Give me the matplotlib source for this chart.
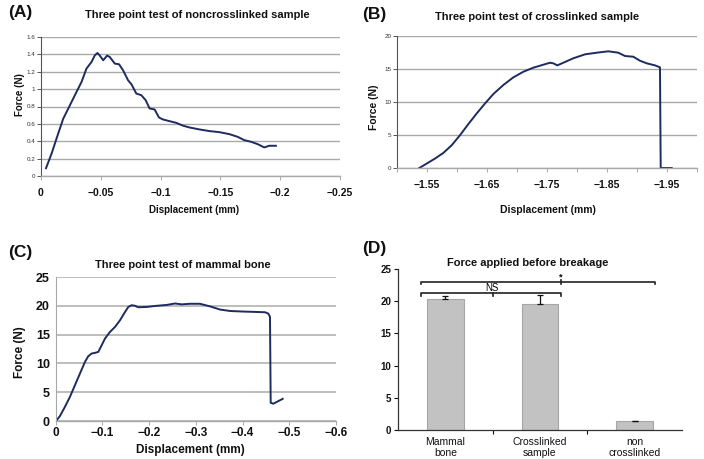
"""Three point bending tests: force vs displacement curves and breakage force summary."""

import matplotlib
matplotlib.use("Agg")
import matplotlib.pyplot as plt

plt.rcParams["font.family"] = ["Liberation Sans", "DejaVu Sans"]

# Style tokens
NAVY = "#1d2b5e"
GRID = "#a9a9a9"
SPINE = "#555555"
BAR = "#c2c2c2"
BAR_EDGE = "#a6a6a6"
INK = "#111111"

W, H = 704, 459

# (A) noncrosslinked sample
A_disp = [-0.0042, -0.0089, -0.0144, -0.0186, -0.0242, -0.0297, -0.0339, -0.038, -0.0422,
          -0.045, -0.0472, -0.049, -0.052, -0.0553, -0.0575, -0.0617, -0.0653, -0.0686,
          -0.0728, -0.0756, -0.0797, -0.0839, -0.0875, -0.0908, -0.095, -0.0986, -0.1019,
          -0.1075, -0.1131, -0.1186, -0.124, -0.1325, -0.1408, -0.149, -0.1575, -0.1644,
          -0.17, -0.1756, -0.1811, -0.1867, -0.1908, -0.1964]
A_force = [0.09, 0.26, 0.49, 0.66, 0.815, 0.968, 1.083, 1.236, 1.312,
           1.389, 1.416, 1.389, 1.332, 1.386, 1.37, 1.294, 1.286, 1.217,
           1.102, 1.056, 0.949, 0.930, 0.873, 0.777, 0.766, 0.674, 0.651,
           0.631, 0.612, 0.58, 0.559, 0.536, 0.517, 0.505, 0.482, 0.451,
           0.413, 0.394, 0.367, 0.329, 0.348, 0.348]
A_yticks = [0, 0.2, 0.4, 0.6, 0.8, 1.0, 1.2, 1.4, 1.6]
A_ylabels = ["0", "0.2", "0.4", "0.6", "0.8", "1", "1.2", "1.4", "1.6"]
A_xticks = [0, -0.05, -0.1, -0.15, -0.2, -0.25]
A_xlabels = ["0", "\u22120.05", "\u22120.1", "\u22120.15", "\u22120.2", "\u22120.25"]

# (B) crosslinked sample
B_disp = [-1.5372, -1.5495, -1.5633, -1.5772, -1.5912, -1.605, -1.6188, -1.6328, -1.6467,
          -1.6605, -1.6772, -1.6938, -1.7105, -1.7272, -1.7383, -1.755, -1.7605, -1.7672,
          -1.7772, -1.7938, -1.8133, -1.8328, -1.8522, -1.8688, -1.88, -1.8938, -1.905,
          -1.9162, -1.93, -1.9383, -1.9395, -1.9578]
B_force = [0, 0.67, 1.43, 2.28, 3.45, 4.97, 6.64, 8.26, 9.78,
           11.2, 12.57, 13.73, 14.58, 15.2, 15.5, 15.95, 15.86, 15.55,
           15.95, 16.62, 17.22, 17.47, 17.68, 17.47, 16.97, 16.86, 16.25,
           15.86, 15.55, 15.25, 0, 0]
B_yticks = [0, 5, 10, 15, 20]
B_xticks = [-1.55, -1.65, -1.75, -1.85, -1.95]
B_xlabels = ["\u22121.55", "\u22121.65", "\u22121.75", "\u22121.85", "\u22121.95"]
B_xminor = [-1.5, -1.6, -1.7, -1.8, -1.9, -2.0]

# (C) mammal bone
C_disp = [-0.001, -0.0096, -0.0203, -0.031, -0.0417, -0.0524, -0.0631, -0.0702, -0.0774,
          -0.0845, -0.0916, -0.0988, -0.1059, -0.1166, -0.1273, -0.138, -0.1487, -0.1557,
          -0.163, -0.17, -0.1771, -0.195, -0.2165, -0.2379, -0.2556, -0.27, -0.2877,
          -0.309, -0.3305, -0.3519, -0.3733, -0.4017, -0.4304, -0.4481, -0.4552, -0.4588,
          -0.4603, -0.4659, -0.486]
C_force = [0, 0.87, 2.48, 4.21, 6.24, 8.26, 10.27, 11.26, 11.72,
           11.83, 12.0, 13.16, 14.32, 15.47, 16.33, 17.49, 18.93, 19.8,
           20.1, 20.0, 19.75, 19.8, 20.0, 20.15, 20.4, 20.25, 20.35,
           20.35, 19.9, 19.35, 19.1, 19.0, 18.93, 18.88, 18.65, 18.07,
           3.17, 3.0, 3.85]
C_yticks = [0, 5, 10, 15, 20, 25]
C_xticks = [0, -0.1, -0.2, -0.3, -0.4, -0.5, -0.6]
C_xlabels = ["0", "\u22120.1", "\u22120.2", "\u22120.3", "\u22120.4", "\u22120.5", "\u22120.6"]

# (D) force applied before breakage
D_groups = ["Mammal\nbone", "Crosslinked\nsample", "non\ncrosslinked"]
D_force = [20.4, 19.6, 1.35]
D_err = [0.45, 1.3, 0.1]
D_yticks = [0, 5, 10, 15, 20, 25]


def rect(l, t, r, b):
    return [l / W, 1 - b / H, (r - l) / W, (b - t) / H]


def ftext(fig, x, y, s, **kw):
    kw.setdefault("ha", "center")
    kw.setdefault("va", "center")
    fig.text(x / W, 1 - y / H, s, **kw)


def style_line_axes(ax):
    for side in ["top", "right"]:
        ax.spines[side].set_visible(False)
    ax.spines["left"].set_color(SPINE)
    ax.spines["left"].set_linewidth(0.8)
    ax.spines["bottom"].set_color(GRID)
    ax.spines["bottom"].set_linewidth(1.0)
    ax.grid(axis="y", color=GRID, linewidth=1.0)
    ax.set_axisbelow(True)
    ax.tick_params(axis="y", length=3, width=0.7, color=SPINE, pad=1)
    ax.tick_params(axis="x", length=3, width=0.7, color=GRID, pad=4)


def main():
    fig = plt.figure(figsize=(W / 100, H / 100), dpi=100)
    fig.patch.set_facecolor("white")

    # ---- (A)
    ax = fig.add_axes(rect(41, 37, 340, 176))
    ax.plot(A_disp, A_force, color=NAVY, lw=1.4)
    ax.set_xlim(0, -0.25)
    ax.set_ylim(0, 1.6)
    ax.set_yticks(A_yticks)
    ax.set_yticklabels(A_ylabels, fontsize=4.5, color="#333333")
    ax.set_xticks(A_xticks)
    ax.set_xticklabels(A_xlabels, fontsize=7.5, fontweight="bold", color=INK)
    style_line_axes(ax)
    ax.tick_params(axis="x", pad=6)

    # ---- (B)
    ax = fig.add_axes(rect(397, 36, 697, 168))
    ax.plot(B_disp, B_force, color=NAVY, lw=1.4)
    ax.set_xlim(-1.5, -2.0)
    ax.set_ylim(0, 20)
    ax.set_yticks(B_yticks)
    ax.set_yticklabels([str(v) for v in B_yticks], fontsize=4.5, color="#333333")
    ax.set_xticks(B_xticks)
    ax.set_xticklabels(B_xlabels, fontsize=7.5, fontweight="bold", color=INK)
    ax.set_xticks(B_xminor, minor=True)
    style_line_axes(ax)
    ax.tick_params(axis="x", which="minor", length=3, width=0.7, color=GRID)
    ax.tick_params(axis="x", pad=6)

    # ---- (C)
    ax = fig.add_axes(rect(55.5, 277, 336, 421))
    ax.plot(C_disp, C_force, color=NAVY, lw=1.4)
    ax.set_xlim(0, -0.6)
    ax.set_ylim(0, 25)
    ax.set_yticks(C_yticks)
    ax.set_yticklabels([str(v) for v in C_yticks], fontsize=9, fontweight="bold", color=INK)
    ax.set_xticks(C_xticks)
    ax.set_xticklabels(C_xlabels, fontsize=8.5, fontweight="bold", color=INK)
    style_line_axes(ax)
    ax.spines["left"].set_color(GRID)
    ax.grid(axis="y", color="#b8b8b8", linewidth=1.3)
    ax.tick_params(axis="y", length=0, pad=4)
    ax.tick_params(axis="x", pad=1)

    # ---- (D)
    ax = fig.add_axes(rect(398, 269, 682, 430))
    xs = list(range(len(D_groups)))
    ax.bar(xs, D_force, width=0.39, color=BAR, edgecolor=BAR_EDGE, linewidth=0.8, zorder=2)
    ax.errorbar(xs, D_force, yerr=[[0] * len(D_err), D_err], fmt="none",
                ecolor=INK, elinewidth=0.9, capsize=2.5, capthick=0.9, zorder=3)
    ax.set_xlim(-0.5, 2.5)
    ax.set_ylim(0, 25)
    ax.set_yticks(D_yticks)
    ax.set_yticklabels([str(v) for v in D_yticks], fontsize=7, fontweight="bold", color=INK)
    ax.set_xticks(xs)
    ax.set_xticklabels(D_groups, fontsize=7.5, color=INK, linespacing=1.1)
    ax.set_xticks([0.5, 1.5], minor=True)
    ax.tick_params(axis="x", which="major", length=0, pad=5)
    ax.tick_params(axis="x", which="minor", length=3, width=0.8, color=INK)
    ax.tick_params(axis="y", length=3, width=0.8, color=INK, pad=2)
    for side in ["top", "right"]:
        ax.spines[side].set_visible(False)
    for side in ["left", "bottom"]:
        ax.spines[side].set_color("#333333")
        ax.spines[side].set_linewidth(0.9)

    # significance brackets
    br = dict(color="#222222", lw=1.2, clip_on=False)
    ax.plot([-0.26, -0.26, 2.22, 2.22], [22.65, 23.05, 23.05, 22.65], **br)
    ax.plot([1.218, 1.218], [22.7, 23.3], **br)
    ax.text(1.218, 23.35, "*", ha="center", va="baseline", fontsize=6.5,
            fontweight="bold", clip_on=False)
    ax.plot([-0.26, -0.26, 1.22, 1.22], [20.85, 21.25, 21.25, 20.85], **br)
    ax.plot([0.507, 0.507], [20.85, 21.25], **br)
    ax.text(0.49, 21.35, "NS", ha="center", va="bottom", fontsize=7)

    # ---- titles, axis labels, panel letters
    tkw = dict(fontsize=8, fontweight="bold", color=INK)
    ftext(fig, 197, 15, "Three point test of noncrosslinked sample", **tkw)
    ftext(fig, 537, 17, "Three point test of crosslinked sample", **tkw)
    ftext(fig, 183, 265, "Three point test of mammal bone", **tkw)
    ftext(fig, 528, 263, "Force applied before breakage", **tkw)

    lkw = dict(fontweight="bold", color=INK)
    ftext(fig, 194, 210, "Displacement (mm)", fontsize=7, **lkw)
    ftext(fig, 548, 210, "Displacement (mm)", fontsize=7.5, **lkw)
    ftext(fig, 190, 450, "Displacement (mm)", fontsize=8.5, **lkw)
    ftext(fig, 20, 95, "Force (N)", fontsize=7, rotation=90, **lkw)
    ftext(fig, 374, 107, "Force (N)", fontsize=7.5, rotation=90, **lkw)
    ftext(fig, 20, 352, "Force (N)", fontsize=8.5, rotation=90, **lkw)

    pkw = dict(fontsize=12.5, fontweight="bold", color=INK)
    ftext(fig, 20, 12, "(A)", **pkw)
    ftext(fig, 374, 14, "(B)", **pkw)
    ftext(fig, 20, 252, "(C)", **pkw)
    ftext(fig, 374, 248, "(D)", **pkw)

    fig.savefig("out.png", dpi=100, facecolor="white")
    plt.close(fig)


if __name__ == "__main__":
    main()
